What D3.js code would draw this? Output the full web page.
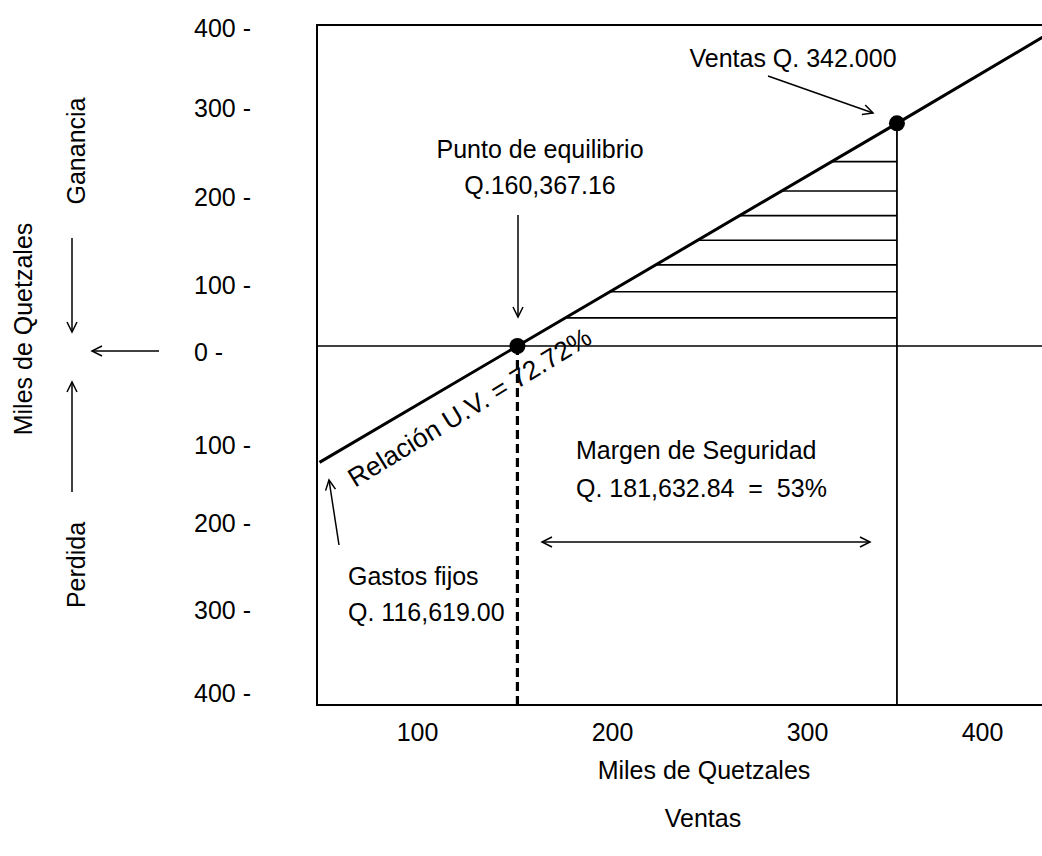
<!DOCTYPE html>
<html><head><meta charset="utf-8">
<script src="https://cdn.jsdelivr.net/npm/d3@7"></script>
<style>
html,body{margin:0;padding:0;background:#fff;}
svg{display:block;font-family:"Liberation Sans",Arial,Helvetica,sans-serif;}
text{fill:#000;}
</style></head><body>
<svg id="chart" width="1042" height="856"></svg>
<script>
// ---------------- data (miles de quetzales) ----------------
const xTickValues = [100, 200, 300, 400];
const yTickValues = [400, 300, 200, 100, 0, -100, -200, -300, -400];
const lineX = [50, 151.5, 351.4, 440];      // ventas
const lineY = [-130, 0, 276, 388];          // ganancia / pérdida
const breakEvenX = 151.5, breakEvenY = 0;
const ventasX = 351.4, ventasY = 276;
const hatchLevels = [233, 200, 172, 144, 116, 81, 42];

// ---------------- layout ----------------
const W = 1042, H = 856;
const frame = {left: 317, top: 25, bottom: 705, right: 1050};
const xRange = [417, 612, 807, 982];
const yRange = [22, 102, 191, 279, 346, 439, 517, 604, 687];
const FS = 25;

const svg = d3.select("#chart");

const x = d3.scaleLinear().domain(xTickValues).range(xRange);
const y = d3.scaleLinear().domain(yTickValues).range(yRange);

// arrow markers
const defs = svg.append("defs");
function marker(id, orient) {
  defs.append("marker").attr("id", id)
    .attr("viewBox", "-12 -7 14 14").attr("refX", 0).attr("refY", 0)
    .attr("markerWidth", 14).attr("markerHeight", 14)
    .attr("markerUnits", "userSpaceOnUse").attr("orient", orient)
    .append("path").attr("d", "M-10,-5 L0,0 L-10,5")
    .attr("fill", "none").attr("stroke", "#000").attr("stroke-width", 1.5);
}
marker("arrEnd", "auto");
marker("arrStart", "auto-start-reverse");

defs.append("clipPath").attr("id", "plotClip").append("rect")
  .attr("x", frame.left).attr("y", frame.top)
  .attr("width", frame.right - frame.left).attr("height", frame.bottom - frame.top);

// frame
svg.append("path")
  .attr("d", `M${frame.right},${frame.top} H${frame.left} V${frame.bottom} H${frame.right}`)
  .attr("fill", "none").attr("stroke", "#000").attr("stroke-width", 2);

const plot = svg.append("g").attr("clip-path", "url(#plotClip)");

// zero line
plot.append("line")
  .attr("x1", frame.left).attr("x2", frame.right)
  .attr("y1", y(0)).attr("y2", y(0))
  .attr("stroke", "#000").attr("stroke-width", 1.5);

// line points in pixels
const pts = lineX.map((d, i) => [x(d), y(lineY[i])]);
function xAtPixelY(py) {
  for (let i = 0; i < pts.length - 1; i++) {
    const [x0, y0] = pts[i], [x1, y1] = pts[i + 1];
    if ((py <= y0 && py >= y1) || (py >= y0 && py <= y1)) {
      return x0 + (py - y0) / (y1 - y0) * (x1 - x0);
    }
  }
  return pts[0][0];
}

// hatch (safety margin area)
plot.selectAll("line.hatch").data(hatchLevels).join("line")
  .attr("class", "hatch")
  .attr("x1", d => xAtPixelY(y(d)))
  .attr("x2", x(ventasX))
  .attr("y1", d => y(d)).attr("y2", d => y(d))
  .attr("stroke", "#000").attr("stroke-width", 1.6);

// vertical line at ventas
plot.append("line")
  .attr("x1", x(ventasX)).attr("x2", x(ventasX))
  .attr("y1", y(ventasY)).attr("y2", frame.bottom)
  .attr("stroke", "#000").attr("stroke-width", 1.8);

// dashed line at break-even
plot.append("line")
  .attr("x1", x(breakEvenX)).attr("x2", x(breakEvenX))
  .attr("y1", y(breakEvenY)).attr("y2", frame.bottom)
  .attr("stroke", "#000").attr("stroke-width", 3.2)
  .attr("stroke-dasharray", "9,5");

// main line
plot.append("path")
  .attr("d", d3.line()(pts))
  .attr("fill", "none").attr("stroke", "#000").attr("stroke-width", 3);

// dots
plot.selectAll("circle.pt").data([[breakEvenX, breakEvenY], [ventasX, ventasY]]).join("circle")
  .attr("class", "pt")
  .attr("cx", d => x(d[0])).attr("cy", d => y(d[1])).attr("r", 8)
  .attr("fill", "#000");

// axes
const xAxis = svg.append("g").attr("transform", "translate(0,723)")
  .call(d3.axisBottom(x).tickValues(xTickValues).tickSize(0).tickPadding(0).tickFormat(d3.format("d")));
xAxis.select(".domain").remove();
xAxis.selectAll("text").attr("font-size", FS).attr("font-family", "Liberation Sans, Arial, sans-serif").attr("fill", "#000");

const yAxis = svg.append("g").attr("transform", "translate(194,0)")
  .call(d3.axisLeft(y).tickValues(yTickValues).tickSize(0).tickPadding(0).tickFormat(d => Math.abs(d) + " -"));
yAxis.select(".domain").remove();
yAxis.selectAll("text").attr("x", 0).attr("y", 6).attr("text-anchor", "start")
  .attr("font-size", FS).attr("font-family", "Liberation Sans, Arial, sans-serif").attr("fill", "#000");

// texts
function txt(s, tx, ty, anchor, rot, fs) {
  const t = svg.append("text").text(s).attr("font-size", fs || FS)
    .attr("text-anchor", anchor || "middle").style("white-space", "pre");
  if (rot) t.attr("transform", `translate(${tx},${ty}) rotate(${rot})`);
  else t.attr("x", tx).attr("y", ty);
  return t;
}
txt("Ventas Q. 342.000", 793, 67);
txt("Punto de equilibrio", 540, 158);
txt("Q.160,367.16", 540, 194);
txt("Margen de Seguridad", 576, 459, "start");
txt("Q. 181,632.84  =  53%", 576, 497, "start");
txt("Gastos fijos", 348, 585, "start");
txt("Q. 116,619.00", 348, 621, "start");
txt("Miles de Quetzales", 704, 779);
txt("Ventas", 703, 827);
txt("Miles de Quetzales", 32, 329, "middle", -90);
txt("Ganancia", 85, 151, "middle", -90);
txt("Perdida", 85, 565, "middle", -90);

const ang = Math.atan2(pts[2][1] - pts[1][1], pts[2][0] - pts[1][0]) * 180 / Math.PI;
txt("Relación U.V. = 72.72%", 355, 488, "start", ang - 1, 26.5);

// arrows
function arrow(x1, y1, x2, y2, both) {
  const l = svg.append("line").attr("x1", x1).attr("y1", y1).attr("x2", x2).attr("y2", y2)
    .attr("stroke", "#000").attr("stroke-width", 1.5).attr("marker-end", "url(#arrEnd)");
  if (both) l.attr("marker-start", "url(#arrStart)");
}
arrow(72, 238, 72, 332);
arrow(159, 351, 92, 351);
arrow(72, 492, 72, 382);
arrow(518, 215, 518, 317);
arrow(768, 76, 873, 113);
arrow(339, 545, 329, 480);
arrow(542, 542, 870, 542, true);
</script>
</body></html>
